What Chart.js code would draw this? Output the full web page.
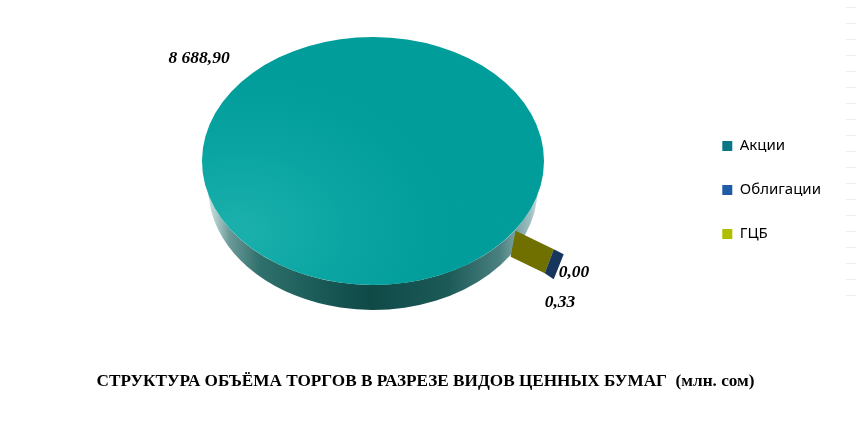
<!DOCTYPE html>
<html>
<head>
<meta charset="utf-8">
<script src="https://cdn.jsdelivr.net/npm/chart.js@4/dist/chart.umd.min.js"></script>
<style>
  html, body { margin: 0; padding: 0; background: #fff; overflow: hidden; }
  #grafico { display: block; }
</style>
</head>
<body>
<canvas id="grafico" width="856" height="421"></canvas>
<script>
const categorias = ["Акции", "Облигации", "ГЦБ"]
const valores = [8688.90, 0.00, 0.33]
const rotulos = ["8 688,90", "0,00", "0,33"]
const coresLegenda = ["#0b7686", "#1f5ba6", "#aebf00"]
const titulo = "СТРУКТУРА ОБЪЁМА ТОРГОВ В РАЗРЕЗЕ ВИДОВ ЦЕННЫХ БУМАГ  (млн. сом)"

// onde a pizza fica na imagem (a elipse e o lado "3D")
const centroX = 373
const centroY = 161
const raioY = 124
const posRotulos = [[199, 58], [574, 272], [560, 302]]

function corFatia(context) {
  const area = context.chart.chartArea
  if (!area) return "#009c99"
  const cx = (area.left + area.right) / 2
  const cy = (area.top + area.bottom) / 2
  const g = context.chart.ctx.createRadialGradient(cx - 135, cy + 95, 10, cx - 135, cy + 95, 210)
  g.addColorStop(0, "#1aafab")
  g.addColorStop(0.5, "#0aa5a2")
  g.addColorStop(1, "#019d9a")
  return g
}

// aplica a elipse por cima do arco que o Chart.js calcula
function transformar(ctx, arco) {
  ctx.translate(centroX, centroY)
  ctx.scale(1, raioY / arco.outerRadius)
  ctx.translate(-arco.x, -arco.y)
}

function desenharLado(chart, arco) {
  const ctx = chart.ctx
  const rx = arco.outerRadius
  const g = ctx.createLinearGradient(centroX - rx, 0, centroX + rx, 0)
  g.addColorStop(0, "#e8f0f0")
  g.addColorStop(0.04, "#b0cccc")
  g.addColorStop(0.08, "#6a9a98")
  g.addColorStop(0.17, "#2f6f6c")
  g.addColorStop(0.34, "#1a5a57")
  g.addColorStop(0.49, "#0f4a47")
  g.addColorStop(0.72, "#1c5a57")
  g.addColorStop(0.87, "#4a8080")
  g.addColorStop(0.96, "#9fbfc0")
  g.addColorStop(1, "#eef4f4")
  // a base é um pouco menor que o topo (perspectiva)
  const baseRx = rx - 6
  const baseRy = raioY - 1
  const baseY = centroY + 26
  ctx.save()
  ctx.fillStyle = g
  ctx.beginPath()
  ctx.moveTo(centroX + rx, centroY)
  ctx.ellipse(centroX, baseY, baseRx, baseRy, 0, 0.2, Math.PI - 0.2)
  ctx.lineTo(centroX - rx, centroY)
  ctx.ellipse(centroX, centroY, rx, raioY, 0, Math.PI, 0, true)
  ctx.closePath()
  ctx.fill()
  ctx.restore()
}

// a fatia do ГЦБ quase não tem largura, aparece só a parede cortada
function desenharParede(chart, arco) {
  const ctx = chart.ctx
  const ang = arco.startAngle
  const ponto = (r) => [
    centroX + r * Math.cos(ang),
    centroY + r * Math.sin(ang) * raioY / arco.outerRadius
  ]
  const r0 = arco.outerRadius
  const a = ponto(r0 + 1)
  const b = ponto(r0 + 47)
  const c = ponto(r0 + 59)

  ctx.save()
  ctx.fillStyle = "#707000"
  ctx.beginPath()
  ctx.moveTo(a[0], a[1])
  ctx.lineTo(b[0], b[1])
  ctx.lineTo(b[0] - 9, b[1] + 24)
  ctx.lineTo(a[0] - 5, a[1] + 26)
  ctx.closePath()
  ctx.fill()

  ctx.fillStyle = "#17365d"
  ctx.beginPath()
  ctx.moveTo(b[0], b[1])
  ctx.lineTo(c[0], c[1])
  ctx.lineTo(c[0] - 10, c[1] + 25)
  ctx.lineTo(b[0] - 9, b[1] + 24)
  ctx.closePath()
  ctx.fill()
  ctx.restore()
}

const pizza3d = {
  id: "pizza3d",
  beforeDatasetsDraw(chart) {
    const meta = chart.getDatasetMeta(0)
    const arco = meta.data[0]
    desenharLado(chart, arco)
    desenharParede(chart, meta.data[2])
    chart.ctx.save()
    transformar(chart.ctx, arco)
  },
  afterDatasetsDraw(chart) {
    const ctx = chart.ctx
    ctx.restore()

    ctx.save()
    ctx.fillStyle = "#000"
    ctx.font = "italic bold 17.5px 'Liberation Serif'"
    ctx.textAlign = "center"
    ctx.textBaseline = "middle"
    rotulos.forEach((txt, i) => ctx.fillText(txt, posRotulos[i][0], posRotulos[i][1]))

    // risquinhos claros na borda direita da imagem
    ctx.fillStyle = "#eeeeee"
    for (let y = 7; y <= 310; y += 16) {
      ctx.fillRect(846, y, 10, 1)
    }
    ctx.restore()
  }
}

new Chart(document.getElementById("grafico"), {
  type: "pie",
  plugins: [pizza3d],
  data: {
    labels: categorias,
    datasets: [{
      data: valores,
      backgroundColor: corFatia,
      borderWidth: 0
    }]
  },
  options: {
    responsive: false,
    animation: false,
    rotation: 124,
    layout: { padding: { left: 20, right: 25, top: 19, bottom: 0 } },
    plugins: {
      tooltip: { enabled: false },
      title: {
        display: true,
        text: titulo,
        position: "bottom",
        color: "#000",
        font: { family: "'Liberation Serif'", size: 17.2, weight: "bold", lineHeight: 1.2 },
        padding: { top: 10, bottom: 29.36 }
      },
      legend: {
        position: "right",
        fullSize: false,
        labels: {
          boxWidth: 10,
          boxHeight: 10,
          padding: 29,
          color: "#000",
          font: { family: "'Noto Sans'", size: 15 },
          generateLabels: () => categorias.map((nome, i) => ({
            text: nome,
            fillStyle: coresLegenda[i],
            strokeStyle: coresLegenda[i],
            lineWidth: 0,
            index: i
          }))
        }
      }
    }
  }
})
</script>
</body>
</html>
